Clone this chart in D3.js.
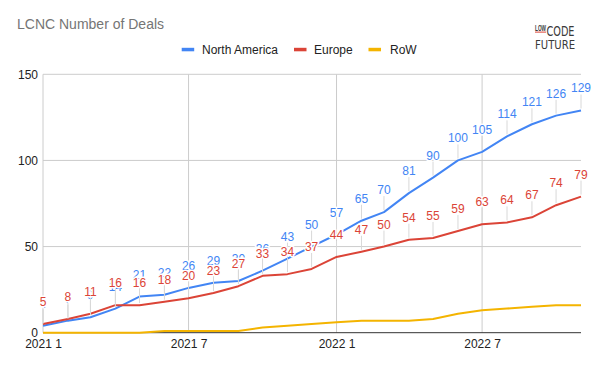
<!DOCTYPE html>
<html>
<head>
<meta charset="utf-8">
<script src="https://cdn.jsdelivr.net/npm/d3@7"></script>
<style>
  html, body { margin: 0; padding: 0; background: #fff; }
  svg { display: block; font-family: "Liberation Sans", Arial, sans-serif; }
</style>
</head>
<body>
<svg id="chart" width="597" height="368"></svg>
<script>
// ---- data ----
const months = ["2021-01","2021-02","2021-03","2021-04","2021-05","2021-06","2021-07","2021-08","2021-09","2021-10","2021-11","2021-12",
                "2022-01","2022-02","2022-03","2022-04","2022-05","2022-06","2022-07","2022-08","2022-09","2022-10","2022-11"];
const northAmerica = [4, 7, 9, 14, 21, 22, 26, 29, 30, 36, 43, 50, 57, 65, 70, 81, 90, 100, 105, 114, 121, 126, 129];
const europe       = [5, 8, 11, 16, 16, 18, 20, 23, 27, 33, 34, 37, 44, 47, 50, 54, 55, 59, 63, 64, 67, 74, 79];
const row          = [0, 0, 0, 0, 0, 1, 1, 1, 1, 3, 4, 5, 6, 7, 7, 7, 8, 11, 13, 14, 15, 16, 16];
const yTicks = [0, 50, 100, 150];
const xTickMonths = ["2021-01", "2021-07", "2022-01", "2022-07"];
const xTickLabels = ["2021 1", "2021 7", "2022 1", "2022 7"];
const seriesNames = ["North America", "Europe", "RoW"];
const seriesColors = ["#4285F4", "#DB4437", "#F4B400"];
const title = "LCNC Number of Deals";

// ---- layout ----
const svg = d3.select("#chart");
const parse = d3.timeParse("%Y-%m");
const dates = months.map(parse);
const x = d3.scaleTime().domain([dates[0], dates[dates.length - 1]]).range([43, 581]);
const y = d3.scaleLinear().domain([0, 150]).range([332.7, 74.3]);

// title
svg.append("text").attr("x", 17).attr("y", 28.5)
  .attr("font-size", 14).attr("fill", "#757575").text(title);

// logo
const logo = svg.append("g").attr("fill", "#3a3a3a");
logo.append("text").attr("x", 535).attr("y", 30.5).attr("font-size", 8.5).attr("font-weight", "bold")
  .attr("textLength", 11).attr("lengthAdjust", "spacingAndGlyphs").text("LOW");
logo.append("rect").attr("x", 535).attr("y", 31.6).attr("width", 11).attr("height", 1).attr("fill", "#DB4437");
logo.append("text").attr("x", 546.5).attr("y", 35.5).attr("font-size", 13.5)
  .attr("font-family", "DejaVu Sans Condensed, Liberation Sans Narrow, sans-serif").attr("font-weight", 300)
  .attr("textLength", 28).attr("lengthAdjust", "spacingAndGlyphs").text("CODE");
logo.append("text").attr("x", 535).attr("y", 48.5).attr("font-size", 12.5)
  .attr("font-family", "DejaVu Sans Condensed, Liberation Sans Narrow, sans-serif").attr("font-weight", 300)
  .attr("textLength", 40).attr("lengthAdjust", "spacingAndGlyphs").text("FUTURE");

// legend
const legendItems = [
  { swatch: 181.7, text: 202 },
  { swatch: 294, text: 314 },
  { swatch: 368.5, text: 390 }
];
const legend = svg.append("g");
legendItems.forEach((it, i) => {
  legend.append("rect").attr("x", it.swatch).attr("y", 47.8).attr("width", 12.5).attr("height", 3.5)
    .attr("fill", seriesColors[i]);
  legend.append("text").attr("x", it.text).attr("y", 53.8).attr("font-size", 12)
    .attr("fill", "#222").text(seriesNames[i]);
});

// gridlines
const grid = svg.append("g");
grid.selectAll("line.h").data(yTicks.filter(d => d > 0)).join("line")
  .attr("x1", 43).attr("x2", 581).attr("y1", d => y(d)).attr("y2", d => y(d))
  .attr("stroke", "#cccccc").attr("stroke-width", 1);
grid.selectAll("line.v").data(xTickMonths.map(parse)).join("line")
  .attr("x1", d => x(d)).attr("x2", d => x(d)).attr("y1", y(150)).attr("y2", y(0))
  .attr("stroke", "#cccccc").attr("stroke-width", 1);

// y axis labels
const yAxis = d3.axisLeft(y).tickValues(yTicks).tickSize(0).tickPadding(5);
const gy = svg.append("g").attr("transform", "translate(43,0)").call(yAxis);
gy.select(".domain").remove();
gy.selectAll("text").attr("font-size", 12).attr("fill", "#222").attr("font-family", "Liberation Sans, Arial, sans-serif");

// x axis labels
const xAxis = d3.axisBottom(x).tickValues(xTickMonths.map(parse)).tickFormat((d, i) => xTickLabels[i]).tickSize(0).tickPadding(7);
const gx = svg.append("g").attr("transform", `translate(0,${y(0)})`).call(xAxis);
gx.select(".domain").remove();
gx.selectAll("text").attr("font-size", 12).attr("fill", "#222").attr("font-family", "Liberation Sans, Arial, sans-serif");

// baseline
svg.append("line").attr("x1", 43).attr("x2", 581).attr("y1", y(0)).attr("y2", y(0))
  .attr("stroke", "#333").attr("stroke-width", 1);

// lines
const allSeries = [northAmerica, europe, row];
const lineGen = d3.line().x((d, i) => x(dates[i])).y(d => y(d));
allSeries.forEach((vals, s) => {
  svg.append("path").datum(vals).attr("d", lineGen)
    .attr("fill", "none").attr("stroke", seriesColors[s]).attr("stroke-width", 2)
    .attr("stroke-linejoin", "round");
});

// data labels (North America, Europe) with leader lines
[0, 1].forEach(s => {
  const g = svg.append("g");
  const vals = allSeries[s];
  g.selectAll("line").data(vals).join("line")
    .attr("x1", (d, i) => x(dates[i])).attr("x2", (d, i) => x(dates[i]))
    .attr("y1", d => y(d) - 2).attr("y2", d => y(d) - 16)
    .attr("stroke", "#d8d8d8").attr("stroke-width", 1);
  g.selectAll("text").data(vals).join("text")
    .attr("x", (d, i) => x(dates[i])).attr("y", d => y(d) - 18)
    .attr("text-anchor", "middle").attr("font-size", 12)
    .attr("fill", seriesColors[s])
    .attr("stroke", "#fff").attr("stroke-width", 3).attr("paint-order", "stroke")
    .attr("stroke-linejoin", "round")
    .text(d => d);
});
</script>
</body>
</html>
